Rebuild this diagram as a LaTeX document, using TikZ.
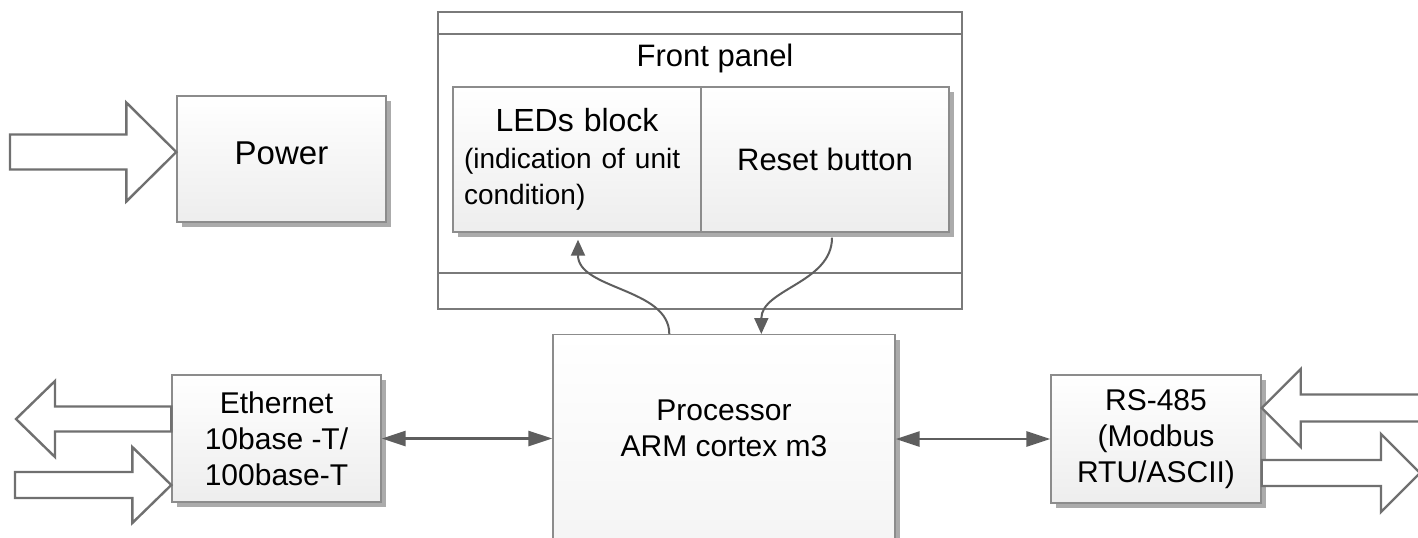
\documentclass[tikz,border=0pt]{standalone}
\usepackage{fontspec}
\setmainfont{Liberation Sans}
\usepackage{xcolor}
\usepackage{tikz}
\usetikzlibrary{arrows.meta, shadows, calc, positioning}

\definecolor{boxgray}{HTML}{8C8C8C}
\definecolor{panelgray}{HTML}{7A7A7A}
\definecolor{wiregray}{HTML}{5E5E5E}
\definecolor{hollowgray}{HTML}{707070}
\definecolor{shadowgray}{HTML}{ABABAB}

\begin{document}
\begin{tikzpicture}[x=0.5pt, y=-0.5pt,
    block/.style={draw=boxgray, line width=0.7pt, top color=white, bottom color=black!7,
        drop shadow={shadow xshift=2.5pt, shadow yshift=-2.5pt, fill=shadowgray, opacity=1},
        inner sep=0pt, align=center, font=\fontsize{15}{18}\selectfont},
    dualwire/.style={draw=wiregray, line width=1.4pt,
        {Triangle[length=12pt, width=7.5pt]}-{Triangle[length=12pt, width=7.5pt]}},
    bendwire/.style={draw=wiregray, line width=1pt, -{Triangle[length=8pt, width=7pt]}},
    hollow/.style={draw=hollowgray, line width=1.2pt, fill=white, line join=miter}]

    % tail, tip, shaft half width, head half width, head length (negative = leftwards)
    \newcommand{\hollowarrow}[5]{%
        \draw[hollow] ($(#1)+(0,-#3)$) -- ($(#2)+({-(#5)},-#3)$) -- ($(#2)+({-(#5)},-#4)$)
            -- (#2) -- ($(#2)+({-(#5)},#4)$) -- ($(#2)+({-(#5)},#3)$) -- ($(#1)+(0,#3)$) -- cycle;}

    \path[use as bounding box, fill=white] (0,0) rectangle (1418,537);

    \node[draw=panelgray, line width=0.8pt, minimum width=262pt, minimum height=148.5pt, inner sep=0pt] (panel) at (700,160.5) {};
    \draw[panelgray, line width=0.8pt] ($(panel.north west)+(0,23)$) -- ($(panel.north east)+(0,23)$);% upper strip
    \draw[panelgray, line width=0.8pt] ($(panel.south west)+(0,-37)$) -- ($(panel.south east)+(0,-37)$);% lower strip
    \node[font=\fontsize{15.5}{18}\selectfont] (paneltitle) at (715,58) {Front panel};

    \node[block, minimum width=124pt, minimum height=72.5pt, text width=113pt, align=left] (leds) at (577,159.5)
        {{\centering\fontsize{16}{18.5}\selectfont LEDs block\par}\vspace{3pt}\fontsize{14}{15.5}\selectfont (indication of unit\\condition)};
    \node[block, minimum width=124pt, minimum height=72.5pt, font=\fontsize{15.5}{18}\selectfont] (reset) at (825,159.5) {Reset button};

    \node[block, minimum width=104.5pt, minimum height=63pt, text depth=6pt, font=\fontsize{16.5}{19}\selectfont] (power) at (281.5,159) {Power};
    \node[block, minimum width=104.5pt, minimum height=63.5pt] (eth) at (276.5,438.5) {Ethernet\\10base -T/\\100base-T};
    \node[block, minimum width=105pt, minimum height=64pt] (rs) at (1156,439) {RS-485\\(Modbus\\RTU/ASCII)};
    \node[block, anchor=north, minimum width=171pt, inner ysep=32.5pt, text depth=80pt] (proc) at (724,334) {Processor\\ARM cortex m3};

    % links to the processor
    \draw[dualwire] (eth.east) -- (eth.east -| proc.west);
    \draw[dualwire] (rs.west -| proc.east) -- (rs.west);
    \draw[bendwire] ($(proc.north west)+(117,0)$) .. controls +(0,-46) and +(0,50) .. ($(leds.south)+(1,7)$);
    \draw[bendwire] ($(reset.south)+(7,5)$) .. controls +(0,45) and +(0,-45) .. ($(proc.north west)+(209,0)$);

    % outside lines
    \coordinate (powerfeed) at (10,152);
    \coordinate (powertip) at (power.west |- powerfeed);
    \hollowarrow{powerfeed}{powertip}{17.5}{49.5}{50}

    \coordinate (ethoutend) at (16,419);
    \coordinate (ethoutstart) at (eth.west |- ethoutend);
    \hollowarrow{ethoutstart}{ethoutend}{12.5}{38}{-39}
    \coordinate (ethinstart) at (15,485);
    \coordinate (ethinend) at (eth.west |- ethinstart);
    \hollowarrow{ethinstart}{ethinend}{13}{38}{39}

    \coordinate (rsinstart) at (1422,408);
    \coordinate (rsinend) at (rs.east |- rsinstart);
    \hollowarrow{rsinstart}{rsinend}{13.5}{39}{-39}
    \coordinate (rsoutend) at (1420,473);
    \coordinate (rsoutstart) at (rs.east |- rsoutend);
    \hollowarrow{rsoutstart}{rsoutend}{13}{39}{39}
\end{tikzpicture}
\end{document}
